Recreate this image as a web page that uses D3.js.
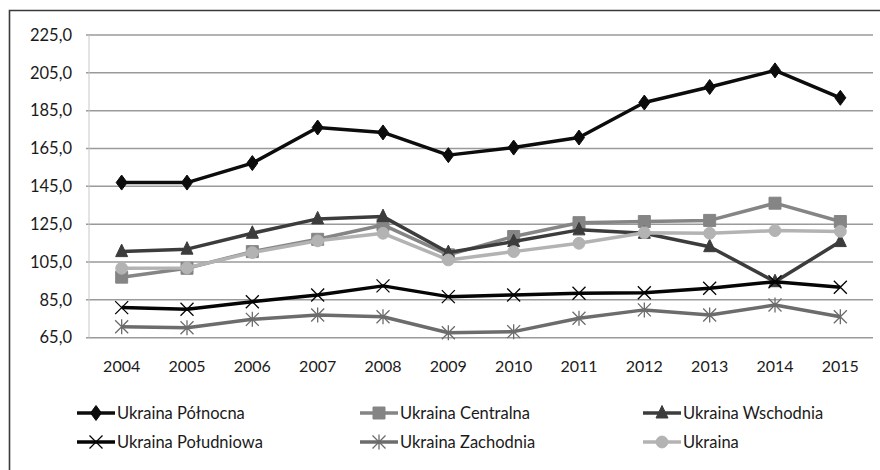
<!DOCTYPE html>
<html><head><meta charset="utf-8">
<script src="https://cdn.jsdelivr.net/npm/d3@7"></script>
<style>body{margin:0;background:#fff}svg{display:block;font-family:Lato,"Open Sans",sans-serif}</style>
</head><body><svg id="c" width="880" height="470"></svg>
<script>
const years = ["2004","2005","2006","2007","2008","2009","2010","2011","2012","2013","2014","2015"];
const yTicks = [65,85,105,125,145,165,185,205,225];
const seriesNames = ["Ukraina Północna","Ukraina Centralna","Ukraina Wschodnia","Ukraina Południowa","Ukraina Zachodnia","Ukraina"];
const polnocna   = [147.0,147.0,157.3,176.1,173.5,161.5,165.5,170.8,189.3,197.5,206.3,191.8];
const centralna  = [97.0,101.7,110.5,117.0,124.6,108.8,118.5,125.8,126.4,127.0,136.1,126.4];
const wschodnia  = [110.5,111.8,120.2,127.8,129.0,110.0,115.8,122.0,120.2,113.1,94.6,115.8];
const poludniowa = [80.9,80.0,84.0,87.6,92.4,86.7,87.6,88.5,88.8,91.1,94.6,91.7];
const zachodnia  = [70.8,70.3,74.7,77.0,76.1,67.6,68.2,75.3,79.7,77.0,82.3,76.1];
const ukraina    = [101.7,101.9,110.0,116.2,120.2,106.1,110.5,114.9,120.5,120.2,121.6,121.2];
const allValues = [polnocna,centralna,wschodnia,poludniowa,zachodnia,ukraina];
const colors = ["#0c0c0c","#858585","#3c3c3c","#050505","#6c6c6c","#b3b3b3"];
const markers = ["diamond","square","triangle","x","star","circle"];

const svg = d3.select("#c");
const x = d3.scaleBand().domain(years).range([89,873]).padding(0);
const y = d3.scaleLinear().domain([65,225]).range([337.7,35]);

// outer frame
svg.append("path").attr("d","M9.5,470 L9.5,10.5 L880,10.5").attr("fill","none").attr("stroke","#3a3a3a").attr("stroke-width",1.6);

// gridlines
svg.append("g").selectAll("line").data(yTicks).join("line")
  .attr("x1",86).attr("x2",873).attr("y1",d=>y(d)).attr("y2",d=>y(d))
  .attr("stroke","#9a9a9a").attr("stroke-width",1.5);
svg.append("line").attr("x1",89).attr("x2",89).attr("y1",y(225)).attr("y2",y(65)).attr("stroke","#c8c8c8").attr("stroke-width",1);

// y axis labels
const yAxis = d3.axisLeft(y).tickValues(yTicks).tickSize(0).tickPadding(0).tickFormat(d=>d3.format(".1f")(d).replace(".",","));
const ga = svg.append("g").attr("transform","translate(72,0)").call(yAxis);
ga.select(".domain").remove();
ga.selectAll("text").attr("font-size",16.5).attr("fill","#1a1a1a").attr("font-family","Lato");

// x axis labels
const xAxis = d3.axisBottom(x).tickSize(0).tickPadding(0);
const gx = svg.append("g").attr("transform","translate(0,361)").call(xAxis);
gx.select(".domain").remove();
gx.selectAll("text").attr("font-size",16).attr("fill","#1a1a1a").attr("font-family","Lato");

function markerPath(type){
  switch(type){
    case "diamond": return "M0,-7.5 L5.5,0 L0,7.5 L-5.5,0 Z";
    case "square": return "M-6,-6 H6 V6 H-6 Z";
    case "triangle": return "M0,-7.5 L6,5 L-6,5 Z";
    case "circle": return d3.symbol(d3.symbolCircle,110)();
    case "x": return "M-6.5,-6.5 L6.5,6.5 M-6.5,6.5 L6.5,-6.5";
    case "star": return "M-6.5,-6.5 L6.5,6.5 M-6.5,6.5 L6.5,-6.5 M0,-7.5 V7.5";
  }
}
function drawMarker(g,type,color,cx,cy){
  const open = (type==="x"||type==="star");
  g.append("path").attr("d",markerPath(type)).attr("transform",`translate(${cx},${cy})`)
   .attr("fill",open?"none":color).attr("stroke",color).attr("stroke-width",open?1.3:1);
}

const line = d3.line().x((d,i)=>x(years[i])+x.bandwidth()/2).y(d=>y(d));
allValues.forEach((vals,s)=>{
  const g = svg.append("g");
  g.append("path").datum(vals).attr("d",line).attr("fill","none")
   .attr("stroke",colors[s]).attr("stroke-width",3.5).attr("stroke-linejoin","round");
  vals.forEach((v,i)=>drawMarker(g,markers[s],colors[s],x(years[i])+x.bandwidth()/2,y(v)));
});

// legend
const legX = [77,360,643], legY=[413,442];
seriesNames.forEach((name,s)=>{
  const lx = legX[s%3], ly = legY[Math.floor(s/3)];
  const g = svg.append("g");
  g.append("line").attr("x1",lx).attr("x2",lx+38).attr("y1",ly).attr("y2",ly).attr("stroke",colors[s]).attr("stroke-width",3.5);
  drawMarker(g,markers[s],colors[s],lx+19,ly);
  g.append("text").attr("x",lx+40).attr("y",ly).attr("dy","0.35em").attr("font-size",16.5).attr("fill","#1a1a1a").text(name);
});
</script></body></html>
